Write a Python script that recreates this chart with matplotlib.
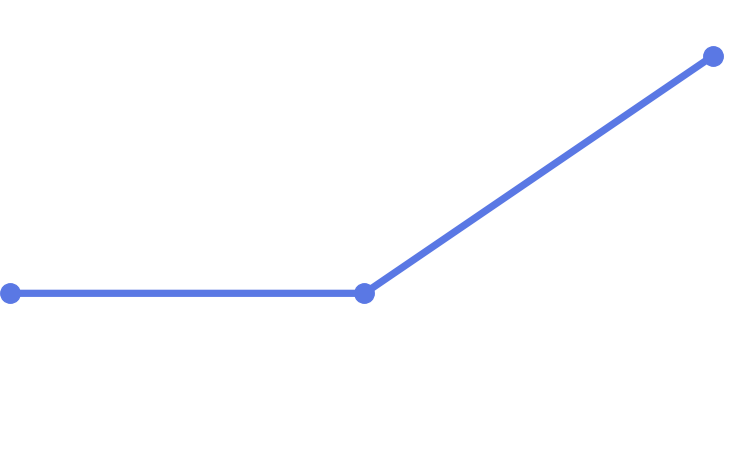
import matplotlib
matplotlib.use("Agg")
from matplotlib import pyplot as plt

# data (axes are hidden, scale is relative)
x_values = [0, 1, 1.982]
values = [10, 10, 20]

fig = plt.figure(figsize=(7.42, 4.53), dpi=100)
ax = fig.add_axes([0, 0, 1, 1])

ax.plot(x_values, values, color="#5a78e4", linewidth=5.2, marker="o",
        markersize=14, solid_capstyle="butt", clip_on=False)

# pixel 9.5 -> x=0, pixel 713 -> x=1.982
scale = (713 - 9.5) / 1.982
ax.set_xlim(-9.5 / scale, 1.982 + (742 - 713) / scale)
ax.set_ylim(3.276, 22.35)
ax.axis("off")

fig.savefig("out.png", dpi=100)
